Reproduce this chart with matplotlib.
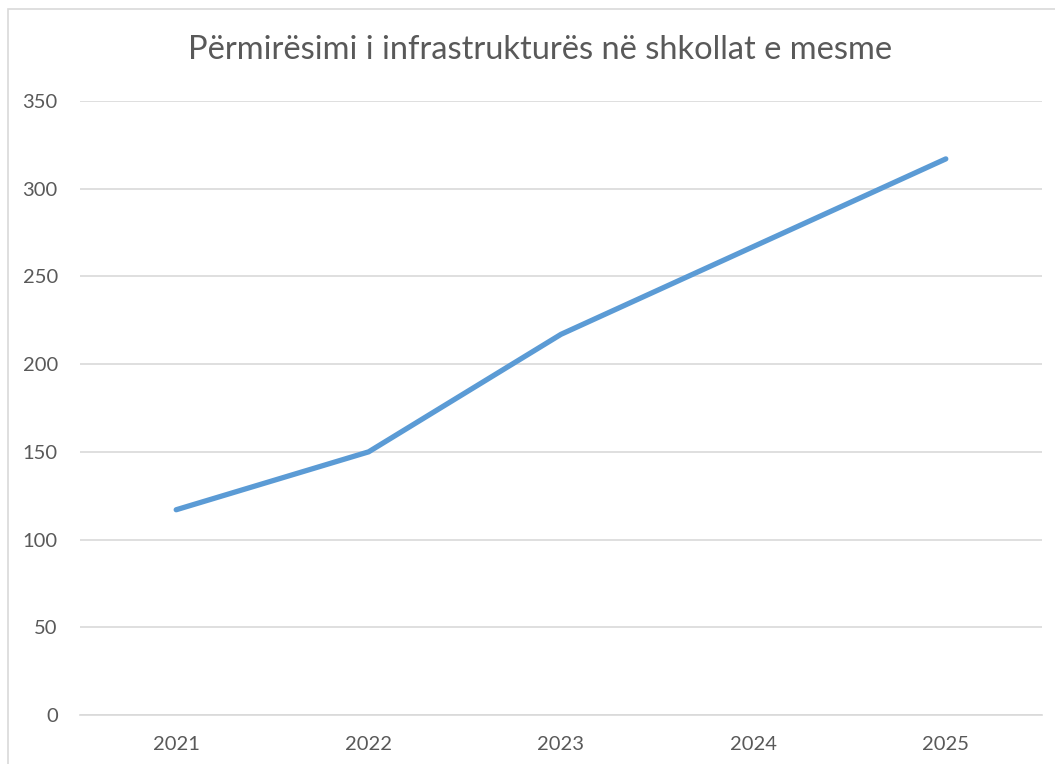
import matplotlib
matplotlib.use("Agg")
import matplotlib.pyplot as plt
from matplotlib.patches import Rectangle

# data
years = ["2021", "2022", "2023", "2024", "2025"]
values = [117, 150, 217, 267, 317]
y_ticks = [0, 50, 100, 150, 200, 250, 300, 350]
title = "Përmirësimi i infrastrukturës në shkollat e mesme"

plt.rcParams['font.family'] = ['Lato', 'DejaVu Sans']
text_color = '#595959'

fig = plt.figure(figsize=(10.55, 7.64), dpi=100)
W, H = 1055, 764

# chart frame (cropped on right and bottom)
fig.patches.append(Rectangle((8 / W, -0.1), 1.2, 1 - 9 / H + 0.1,
                             transform=fig.transFigure, fill=False,
                             edgecolor='#d9d9d9', linewidth=1.2))

ax = fig.add_axes([80 / W, 1 - 715 / H, (1042 - 80) / W, (715 - 101) / H])
x = list(range(len(years)))
ax.plot(x, values, color='#5B9BD5', linewidth=3.8, solid_capstyle='round',
        solid_joinstyle='round')

ax.set_xlim(-0.5, len(years) - 0.5)
ax.set_ylim(0, 350)
ax.set_yticks(y_ticks)
ax.set_xticks(x)
ax.set_xticklabels(years)
ax.grid(axis='y', color='#d9d9d9', linewidth=1.2)
ax.set_axisbelow(True)
for s in ['top', 'right', 'left']:
    ax.spines[s].set_visible(False)
ax.spines['bottom'].set_color('#d9d9d9')
ax.spines['bottom'].set_linewidth(1.2)
ax.tick_params(length=0, labelsize=14.5, colors=text_color)
ax.tick_params(axis='y', pad=16)
ax.tick_params(axis='x', pad=15)

fig.text(540 / W, 1 - 50 / H, title, ha='center', va='center',
         fontsize=23.5, color=text_color)

fig.savefig("out.png", dpi=100)
